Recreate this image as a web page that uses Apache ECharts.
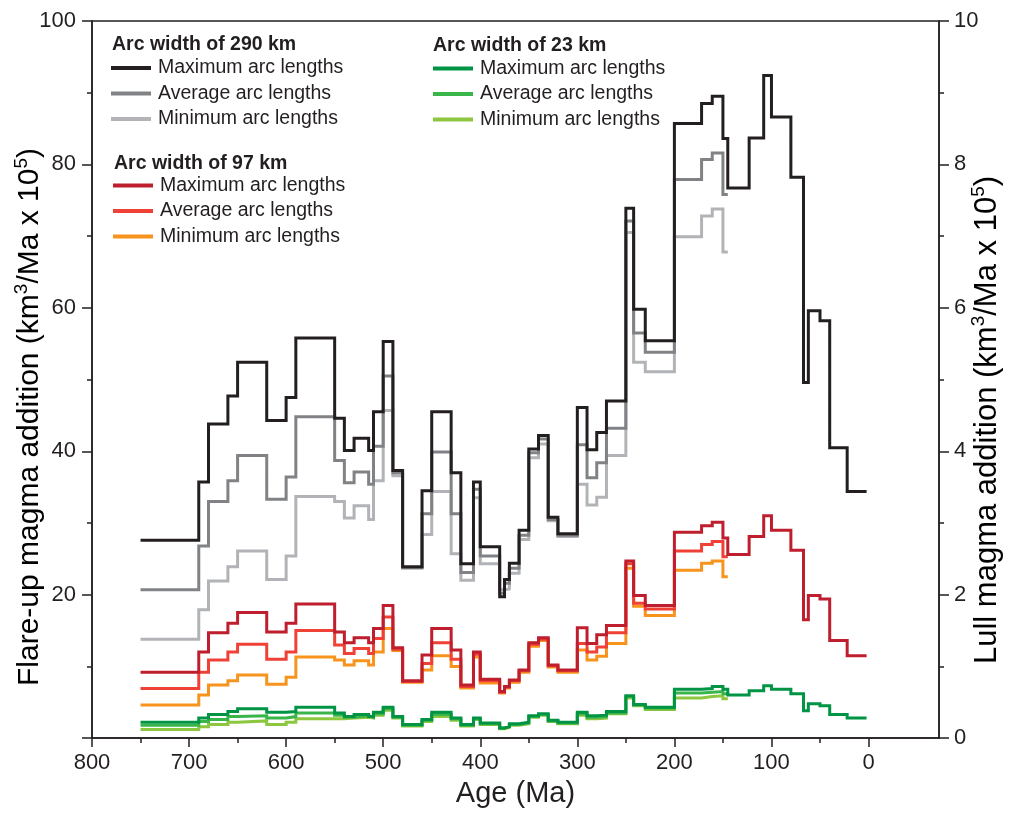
<!DOCTYPE html>
<html>
<head>
<meta charset="utf-8">
<script src="https://cdn.jsdelivr.net/npm/echarts@6/dist/echarts.min.js"></script>
<style>
html,body{margin:0;padding:0;background:#fff;overflow:hidden;}
#chart{width:1010px;height:813px;}
</style>
</head>
<body>
<div id="chart"></div>
<script>
// Bin boundaries (Ma)
const ages = [750, 690, 680, 660, 650, 620, 600, 590, 550, 540, 530, 515, 510, 500, 490, 480, 460, 450, 430, 420, 407, 400, 380, 375, 370, 360, 350, 340, 330, 320, 300, 290, 280, 270, 250, 242, 230, 200, 172, 161, 150, 145, 123, 108, 100, 80, 67, 62, 50, 40, 22, 2];

// Arc width 290 km
const max290 = [27.6, 35.7, 43.8, 47.7, 52.4, 44.3, 47.5, 55.8, 44.6, 40.1, 41.8, 40.1, 45.5, 55.3, 37.3, 23.9, 34.5, 45.5, 37.0, 24.3, 35.7, 26.7, 19.7, 22.1, 24.4, 29.0, 40.3, 42.2, 30.8, 28.5, 46.1, 40.2, 42.6, 47.0, 73.9, 59.8, 55.4, 85.7, 88.5, 89.5, 83.6, 76.7, 83.7, 92.4, 86.6, 78.2, 49.6, 59.6, 58.2, 40.5, 34.4];
const avg290 = [20.7, 26.8, 33.0, 35.9, 39.4, 33.3, 36.4, 44.8, 38.7, 35.6, 37.1, 35.4, 40.7, 50.5, 37.0, 23.8, 31.3, 39.9, 31.3, 23.1, 34.7, 25.4, 20.2, 21.6, 23.7, 28.3, 39.8, 41.7, 30.5, 28.3, 40.9, 36.3, 38.4, 43.2, 72.1, 56.5, 53.8, 77.9, 80.7, 81.6, 75.8];
const min290 = [13.8, 17.9, 21.9, 23.9, 26.1, 22.1, 25.4, 33.7, 33.0, 30.7, 32.4, 30.5, 35.9, 45.7, 36.6, 23.7, 28.4, 34.4, 25.7, 22.0, 33.5, 24.3, 20.7, 20.8, 23.0, 27.7, 39.1, 41.0, 30.3, 28.1, 35.4, 32.5, 33.6, 39.4, 70.5, 52.4, 51.1, 69.9, 72.8, 73.8, 67.8];

// Arc width 97 km
const max97 = [9.2, 12.0, 14.7, 16.0, 17.5, 14.8, 16.0, 18.7, 14.8, 13.3, 14.0, 13.3, 15.3, 18.5, 12.6, 8.0, 11.6, 15.3, 12.3, 7.4, 12.0, 8.2, 6.5, 7.2, 8.1, 9.5, 13.3, 14.0, 10.2, 9.5, 15.4, 13.2, 14.4, 15.7, 24.7, 19.9, 18.5, 28.7, 29.6, 30.1, 27.9, 25.6, 28.1, 31.0, 29.0, 26.2, 16.5, 19.9, 19.4, 13.6, 11.5];
const avg97 = [6.9, 9.2, 10.9, 12.0, 13.1, 11.0, 12.0, 15.0, 13.0, 11.8, 12.5, 11.8, 13.9, 16.9, 12.4, 7.9, 10.4, 13.3, 11.0, 7.2, 11.7, 8.0, 6.4, 7.1, 8.0, 9.4, 13.1, 13.8, 10.1, 9.4, 13.2, 12.0, 12.7, 14.7, 24.3, 18.8, 18.0, 26.1, 27.0, 27.4, 25.3];
const min97 = [4.6, 6.0, 7.4, 8.0, 8.8, 7.5, 8.5, 11.3, 10.9, 10.2, 10.8, 10.2, 12.0, 15.3, 12.2, 7.8, 9.5, 11.5, 10.0, 7.0, 11.3, 7.7, 6.3, 7.0, 7.8, 9.2, 12.8, 13.6, 9.9, 9.2, 12.3, 10.9, 11.4, 13.2, 23.7, 18.4, 17.1, 23.4, 24.4, 24.7, 22.5];

// Arc width 23 km
const max23 = [2.2, 2.8, 3.3, 3.7, 4.1, 3.6, 3.7, 4.3, 3.5, 3.0, 3.3, 3.0, 3.6, 4.3, 3.0, 1.9, 2.6, 3.6, 2.8, 1.9, 2.8, 2.1, 1.4, 1.6, 2.0, 2.2, 3.1, 3.4, 2.5, 2.2, 3.6, 3.1, 3.2, 3.7, 5.9, 4.7, 4.3, 6.8, 6.9, 7.2, 6.8, 6.0, 6.6, 7.3, 6.8, 6.2, 3.8, 4.8, 4.5, 3.3, 2.8];
const avg23 = [1.8, 2.3, 2.6, 3.0, 3.1, 2.8, 3.0, 3.5, 3.2, 2.9, 3.1, 2.9, 3.4, 4.1, 2.9, 1.8, 2.5, 3.3, 2.7, 1.8, 2.7, 2.0, 1.4, 1.6, 1.9, 2.1, 3.0, 3.3, 2.4, 2.1, 3.4, 2.9, 3.0, 3.5, 5.8, 4.6, 4.2, 6.3, 6.4, 6.5, 6.2];
const min23 = [1.2, 1.6, 1.9, 2.2, 2.4, 1.9, 2.2, 2.7, 2.7, 2.8, 2.9, 2.8, 3.2, 3.9, 2.8, 1.7, 2.3, 3.0, 2.5, 1.7, 2.6, 1.9, 1.3, 1.5, 1.8, 2.0, 2.9, 3.2, 2.3, 2.0, 3.2, 2.7, 2.8, 3.4, 5.6, 4.5, 4.0, 5.6, 5.8, 5.9, 5.5];

// Tick values
const xMajorTicks = [800, 700, 600, 500, 400, 300, 200, 100, 0];
const xMinorTicks = [750, 650, 550, 450, 350, 250, 150, 50];

const groupTitles = ['Arc width of 290 km', 'Arc width of 97 km', 'Arc width of 23 km'];
const itemNames = ['Maximum arc lengths', 'Average arc lengths', 'Minimum arc lengths'];

const FONT = '"Liberation Sans", Arial, Helvetica, sans-serif';
const INK = '#231f20';

function steps(vals) {
  const pts = [];
  vals.forEach((v, i) => {
    if (v == null) return;
    pts.push([ages[i], v], [ages[i + 1], v]);
  });
  return pts;
}

function mk(name, vals, color) {
  return {
    name: name, type: 'line', data: steps(vals), showSymbol: false, symbol: 'none',
    xAxisIndex: 0, yAxisIndex: 0,
    lineStyle: { color: color, width: 3, join: 'miter' },
    itemStyle: { color: color },
    emphasis: { disabled: true }, silent: true
  };
}

const seriesDefs = [
  mk(itemNames[2] + '|23', min23, '#8dc63f'),
  mk(itemNames[1] + '|23', avg23, '#39b54a'),
  mk(itemNames[0] + '|23', max23, '#009444'),
  mk(itemNames[2] + '|97', min97, '#f7941d'),
  mk(itemNames[1] + '|97', avg97, '#ef4136'),
  mk(itemNames[0] + '|97', max97, '#be1e2d'),
  mk(itemNames[2] + '|290', min290, '#b1b3b6'),
  mk(itemNames[1] + '|290', avg290, '#808285'),
  mk(itemNames[0] + '|290', max290, INK)
];

function legendAt(left, top, suffix) {
  return {
    left: left, top: top, orient: 'vertical', padding: 0,
    icon: 'rect', itemWidth: 40, itemHeight: 4, itemGap: 5.5,
    selectedMode: false,
    data: itemNames.map(n => n + '|' + suffix),
    formatter: n => n.split('|')[0],
    textStyle: { fontFamily: FONT, fontSize: 19.5, lineHeight: 20, color: INK, padding: [0, 0, 0, 2] }
  };
}

function supRich(size) {
  return {
    a: { fontFamily: FONT, fontSize: size, lineHeight: size + 5, color: INK },
    s: { fontFamily: FONT, fontSize: Math.round(size * 0.62), lineHeight: Math.round(size * 0.7), color: INK, verticalAlign: 'top' }
  };
}

const chart = echarts.init(document.getElementById('chart'), null, { renderer: 'canvas' });
chart.setOption({
  animation: false,
  backgroundColor: '#fff',
  grid: { left: 92, right: 71, top: 21, bottom: 71, show: true, borderColor: INK, borderWidth: 1.5, backgroundColor: 'transparent' },
  legend: [legendAt(111, 58, '290'), legendAt(113, 175.5, '97'), legendAt(433, 58.5, '23')],
  xAxis: [
    {
      type: 'value', min: -72.6, max: 800, inverse: true, position: 'bottom',
      name: 'Age (Ma)', nameLocation: 'middle', nameGap: 36,
      nameTextStyle: { fontFamily: FONT, fontSize: 29, color: INK },
      axisLine: { show: true, onZero: false, lineStyle: { color: INK, width: 1.5 } },
      axisTick: { show: true, customValues: xMajorTicks, length: 9, lineStyle: { color: INK, width: 1.5 } },
      axisLabel: { customValues: xMajorTicks, fontFamily: FONT, fontSize: 22, color: INK, margin: 14 },
      splitLine: { show: false }
    },
    {
      type: 'value', min: -72.6, max: 800, inverse: true, position: 'bottom',
      axisLine: { show: false, onZero: false },
      axisTick: { show: true, customValues: xMinorTicks, length: 5, lineStyle: { color: INK, width: 1.5 } },
      axisLabel: { show: false },
      splitLine: { show: false }
    }
  ],
  yAxis: [
    {
      type: 'value', min: 0, max: 100, interval: 20, position: 'left',
      axisLine: { show: true, onZero: false, lineStyle: { color: INK, width: 1.5 } },
      axisTick: { show: true, length: 10, lineStyle: { color: INK, width: 1.5 } },
      minorTick: { show: true, splitNumber: 2, length: 5, lineStyle: { color: INK, width: 1.5 } },
      axisLabel: { showMinLabel: false, fontFamily: FONT, fontSize: 22, color: INK, margin: 16 },
      splitLine: { show: false }, minorSplitLine: { show: false }
    },
    {
      type: 'value', min: 0, max: 10, interval: 2, position: 'right',
      axisLine: { show: true, onZero: false, lineStyle: { color: INK, width: 1.5 } },
      axisTick: { show: true, length: 10, lineStyle: { color: INK, width: 1.5 } },
      minorTick: { show: true, splitNumber: 2, length: 5, lineStyle: { color: INK, width: 1.5 } },
      axisLabel: { fontFamily: FONT, fontSize: 22, color: INK, margin: 15 },
      splitLine: { show: false }, minorSplitLine: { show: false }
    }
  ],
  graphic: [
    { type: 'text', left: 112, top: 35, style: { text: groupTitles[0], font: 'bold 19.5px ' + FONT, fill: INK } },
    { type: 'text', left: 114, top: 154, style: { text: groupTitles[1], font: 'bold 19.5px ' + FONT, fill: INK } },
    { type: 'text', left: 433, top: 36, style: { text: groupTitles[2], font: 'bold 19.5px ' + FONT, fill: INK } },
    { type: 'text', x: 30, y: 417, rotation: Math.PI / 2,
      style: { text: '{a|Flare-up magma addition (km}{s|3}{a|/Ma x 10}{s|5}{a|)}', rich: supRich(30), align: 'center', verticalAlign: 'middle' } },
    { type: 'text', x: 987, y: 420, rotation: Math.PI / 2,
      style: { text: '{a|Lull magma addition (km}{s|3}{a|/Ma x 10}{s|5}{a|)}', rich: supRich(31), align: 'center', verticalAlign: 'middle' } }
  ],
  series: seriesDefs
});
</script>
</body>
</html>
